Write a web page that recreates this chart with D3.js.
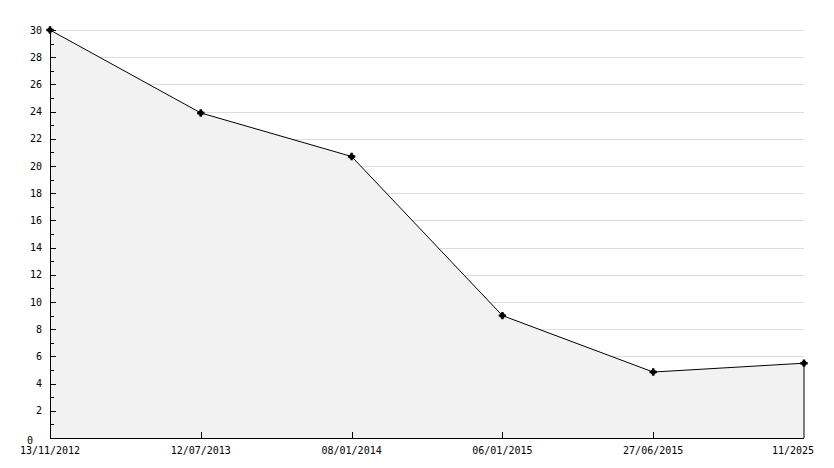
<!DOCTYPE html>
<meta charset="utf-8">
<style>
body { margin: 0; background: #fff; }
svg text { font-family: "DejaVu Sans Mono", monospace; font-size: 10px; fill: #000; }
.grid line { stroke: #dcdcdc; shape-rendering: crispEdges; }
.axis line, .axis path { stroke: #000; shape-rendering: crispEdges; }
</style>
<svg width="834" height="468"></svg>
<script src="https://d3js.org/d3.v7.min.js"></script>
<script>

var dates = ["13/11/2012", "12/07/2013", "08/01/2014", "06/01/2015", "27/06/2015", "11/2025"];
var values = [30, 23.9, 20.7, 9, 4.85, 5.5];
var yTicks = d3.range(2, 31, 2);
var yMinor = d3.range(1, 30, 2);

var margin = {top: 30, right: 30, bottom: 30, left: 50};
var width = 804 - margin.left,
    height = 438 - margin.top;

var svg = d3.select("svg")
	.append("g")
	.attr("transform", "translate(" + margin.left + "," + margin.top + ")");

var x = d3.scalePoint().domain(d3.range(dates.length)).range([0, width]),
	y = d3.scaleLinear().domain([0, 30]).range([height, 0]);

var data = values.map(function(v, i) { return {i: i, v: v}; });

// grid
svg.append("g").attr("class", "grid")
	.selectAll("line").data(yTicks).enter().append("line")
	.attr("x1", 0).attr("x2", width)
	.attr("y1", function(d) { return Math.round(y(d)) + 0.5; })
	.attr("y2", function(d) { return Math.round(y(d)) + 0.5; });

var area = d3.area()
	.x(function(d) { return x(d.i); })
	.y0(height)
	.y1(function(d) { return y(d.v); });

svg.append("path")
	.datum(data)
	.attr("d", area)
	.attr("fill", "#f2f2f2");

var line = d3.line()
	.x(function(d) { return x(d.i); })
	.y(function(d) { return y(d.v); });

svg.append("path")
	.datum(data.concat([{i: dates.length - 1, v: 0}]))
	.attr("d", line)
	.attr("fill", "none")
	.attr("stroke", "#000")
	.attr("stroke-width", 1);

// y axis
var ya = svg.append("g").attr("class", "axis");
ya.append("line").attr("x1", 0.5).attr("x2", 0.5).attr("y1", 0).attr("y2", height);
ya.selectAll(".maj").data(yTicks).enter().append("line")
	.attr("x1", 0).attr("x2", 6)
	.attr("y1", function(d) { return Math.round(y(d)) + 0.5; })
	.attr("y2", function(d) { return Math.round(y(d)) + 0.5; });
ya.selectAll(".min").data(yMinor).enter().append("line")
	.attr("x1", 0).attr("x2", 4)
	.attr("y1", function(d) { return Math.round(y(d)) + 0.5; })
	.attr("y2", function(d) { return Math.round(y(d)) + 0.5; });
ya.selectAll("text").data(yTicks).enter().append("text")
	.attr("x", -8)
	.attr("y", function(d) { return y(d); })
	.attr("dy", "0.35em")
	.attr("text-anchor", "end")
	.text(function(d) { return d; });
ya.append("text")
	.attr("x", -20).attr("y", y(0) + 2)
	.attr("dy", "0.35em")
	.attr("text-anchor", "middle")
	.text("0");

// x axis
var xa = svg.append("g").attr("class", "axis");
xa.append("line").attr("x1", 0).attr("x2", width)
	.attr("y1", height + 0.5).attr("y2", height + 0.5);
xa.selectAll(".tk").data(d3.range(1, dates.length - 1)).enter().append("line")
	.attr("x1", function(d) { return Math.round(x(d)) + 0.5; })
	.attr("x2", function(d) { return Math.round(x(d)) + 0.5; })
	.attr("y1", height).attr("y2", height - 6);
xa.selectAll("text").data(dates).enter().append("text")
	.attr("x", function(d, i) { return x(i) - (i === dates.length - 1 ? 11 : 0); })
	.attr("y", height + 16)
	.attr("text-anchor", "middle")
	.text(function(d) { return d; });

// markers
var dots = svg.append("g").selectAll("g").data(data).enter().append("g")
	.attr("transform", function(d) { return "translate(" + x(d.i) + "," + y(d.v) + ")"; });
dots.append("circle").attr("r", 2.6).attr("fill", "#000");
dots.append("path").attr("d", d3.symbol().type(d3.symbolCross).size(30)).attr("fill", "#000");

</script>
